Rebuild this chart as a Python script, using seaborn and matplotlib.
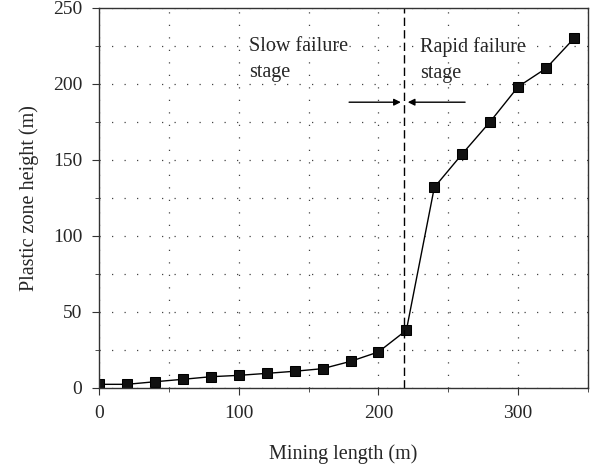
import matplotlib
matplotlib.use("Agg")
import matplotlib.pyplot as plt
import seaborn as sns
import pandas as pd
from matplotlib.ticker import MultipleLocator

mining_length = [0, 20, 40, 60, 80, 100, 120, 140, 160, 180, 200, 220, 240, 260, 280, 300, 320, 340]
zone_height = [2.4, 2.4, 4.1, 5.7, 7.4, 8.3, 9.6, 11.0, 12.7, 17.5, 23.7, 38.0, 132.0, 154.0, 175.2, 198.2, 210.3, 230.0]
divide_x = 218
label_slow = "Slow failure\nstage"
label_rapid = "Rapid failure\nstage"
xlabel = "Mining length (m)"
ylabel = "Plastic zone height (m)"

df = pd.DataFrame({"x": mining_length, "y": zone_height})

sns.set_style("ticks")
plt.rcParams["font.family"] = ["Liberation Serif", "DejaVu Serif"]
plt.rcParams["font.size"] = 14

fig = plt.figure(figsize=(5.93, 4.68), dpi=100)
ax = fig.add_axes([0.167, 0.171, 0.8246, 0.812])

sns.lineplot(data=df, x="x", y="y", ax=ax, color="black", linewidth=1.0,
             marker="s", markersize=6.5, markeredgecolor="black", markerfacecolor="#111111")

ax.set_xlim(0, 350)
ax.set_ylim(0, 250)
ax.xaxis.set_major_locator(MultipleLocator(100))
ax.xaxis.set_minor_locator(MultipleLocator(50))
ax.yaxis.set_major_locator(MultipleLocator(50))
ax.yaxis.set_minor_locator(MultipleLocator(25))
ax.grid(True, which="both", linestyle=(0, (1, 9)), color="#444444", linewidth=0.9)
ax.set_axisbelow(True)

ax.axvline(divide_x, color="black", linestyle=(0, (6, 3)), linewidth=1.0)

ax.text(107.5, 216, label_slow, fontsize=14.5, va="center", ha="left", linespacing=1.5)
ax.text(230, 216, label_rapid, fontsize=14.5, va="center", ha="left", linespacing=1.5)

ax.annotate("", xy=(divide_x, 188), xytext=(177, 188),
            arrowprops=dict(arrowstyle="-|>", color="black", lw=1.0, mutation_scale=10))
ax.annotate("", xy=(divide_x + 1, 188), xytext=(264, 188),
            arrowprops=dict(arrowstyle="-|>", color="black", lw=1.0, mutation_scale=10))

ax.set_xlabel(xlabel, fontsize=14.5, labelpad=16)
ax.set_ylabel(ylabel, fontsize=14.5, labelpad=10)
ax.tick_params(which="major", direction="out", length=5, labelsize=14, color="#333333", pad=7)
ax.tick_params(which="minor", direction="out", length=3, color="#333333")
for s in ax.spines.values():
    s.set_visible(True)
    s.set_color("#333333")
    s.set_linewidth(1.0)

fig.savefig("out.png", dpi=100)
